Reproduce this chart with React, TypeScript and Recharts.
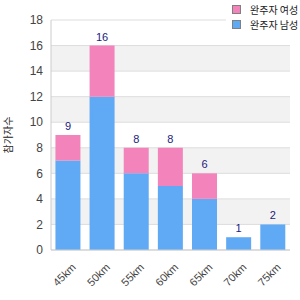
import React from 'react';
import { BarChart, Bar, XAxis, YAxis, CartesianGrid, Legend, LabelList } from 'recharts';

const distances = ['45km', '50km', '55km', '60km', '65km', '70km', '75km'];
const menValues = [7, 12, 6, 5, 4, 1, 2];
const womenValues = [2, 4, 2, 3, 2, 0, 0];
const yTicks = [0, 2, 4, 6, 8, 10, 12, 14, 16, 18];

const seriesNames = { women: '완주자 여성', men: '완주자 남성' };
const yAxisTitle = '참가자수';

const PINK = '#f384bb';
const BLUE = '#60a9f4';
const FONT = '"Liberation Sans", Arial, sans-serif';

const data = distances.map((name, i) => ({
  name,
  men: menValues[i],
  women: womenValues[i],
  total: menValues[i] + womenValues[i],
}));

const AngledTick = (props: any) => {
  const { x, y, payload } = props;
  return (
    <text
      x={x}
      y={y}
      transform={`rotate(-45, ${x}, ${y})`}
      textAnchor="end"
      fontSize={11}
      fill="#444"
      fontFamily={FONT}
      dx={-1}
      dy={13}
    >
      {payload.value}
    </text>
  );
};

// total label drawn above the top segment of each stack
const totalLabel = (segment: 'men' | 'women') => (props: any) => {
  const { x, y, width, index } = props;
  const d = data[index];
  if (!d) return null;
  const onTop = segment === 'women' ? d.women > 0 : d.women === 0;
  if (!onTop) return null;
  return (
    <text x={x + width / 2} y={y - 5} textAnchor="middle" fontSize={11} fill="#1a1a80" fontFamily={FONT}>
      {d.total}
    </text>
  );
};

const LegendBox = () => {
  const items = [
    { label: seriesNames.women, color: PINK },
    { label: seriesNames.men, color: BLUE },
  ];
  return (
    <div style={{ background: '#fff', padding: '2px 0 4px 6px', fontFamily: '"Noto Sans CJK KR", sans-serif' }}>
      {items.map(it => (
        <div key={it.label} style={{ display: 'flex', alignItems: 'center', height: 15, fontSize: 10, color: '#222' }}>
          <span
            style={{
              display: 'inline-block',
              width: 7,
              height: 7,
              background: it.color,
              border: '1px solid #808080',
              marginRight: 9,
            }}
          />
          {it.label}
        </div>
      ))}
    </div>
  );
};

export default function App() {
  return (
    <div style={{ position: 'fixed', top: 0, left: 0, width: 300, height: 300, background: '#fff' }}>
      <BarChart
        width={300}
        height={300}
        data={data}
        margin={{ top: 20, right: 10, left: 0, bottom: 0 }}
        barCategoryGap="13%"
      >
        <CartesianGrid vertical={false} stroke="#dddddd" horizontalFill={['#ffffff', '#f2f2f2']} />
        <XAxis
          dataKey="name"
          height={50}
          tick={<AngledTick />}
          tickLine={false}
          axisLine={{ stroke: '#cccccc' }}
          interval={0}
        />
        <YAxis
          width={51}
          domain={[0, 18]}
          ticks={yTicks}
          tickLine={false}
          axisLine={{ stroke: '#cccccc' }}
          tick={{ fontSize: 12, fill: '#444', fontFamily: FONT }}
          label={{
            value: yAxisTitle,
            angle: -90,
            position: 'insideLeft',
            offset: 8,
            style: { textAnchor: 'middle', fontSize: 10, fill: '#222', fontFamily: '"Noto Sans CJK KR", sans-serif' },
          }}
        />
        <YAxis yAxisId="frame" orientation="right" width={0} tick={false} tickLine={false} axisLine={{ stroke: '#dddddd' }} />
        <Legend
          layout="horizontal"
          verticalAlign="middle"
          align="center"
          wrapperStyle={{ top: 0, left: 226, width: 74 }}
          content={<LegendBox />}
        />
        <Bar dataKey="men" stackId="a" fill={BLUE} isAnimationActive={false}>
          <LabelList dataKey="total" content={totalLabel('men')} />
        </Bar>
        <Bar dataKey="women" stackId="a" fill={PINK} isAnimationActive={false}>
          <LabelList dataKey="total" content={totalLabel('women')} />
        </Bar>
      </BarChart>
    </div>
  );
}
